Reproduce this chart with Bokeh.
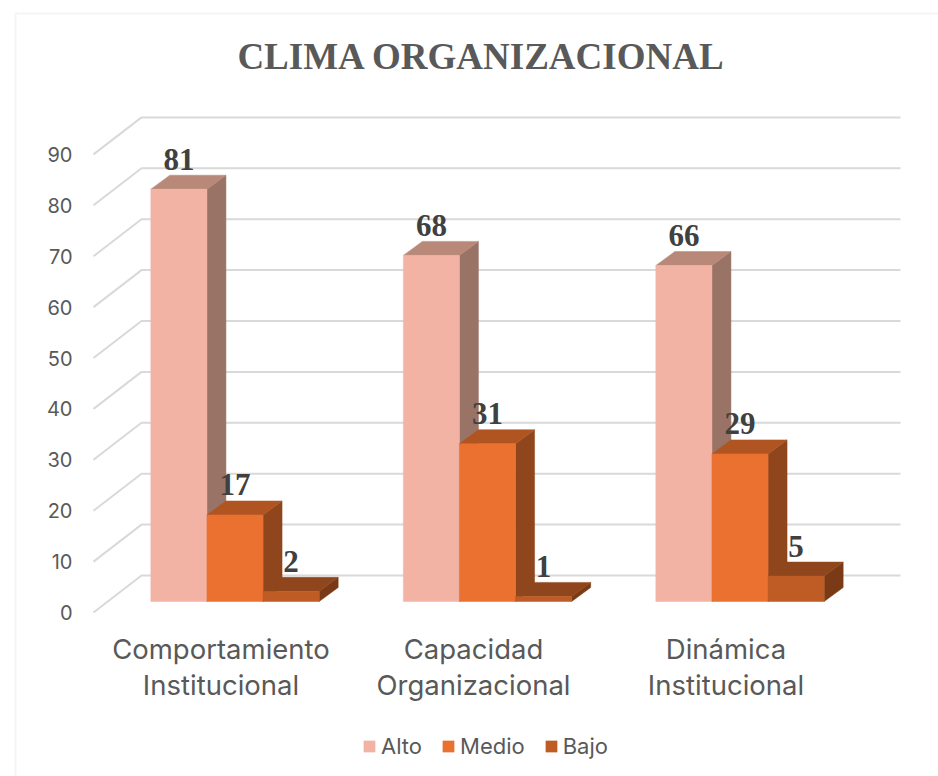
from bokeh.plotting import figure
from bokeh.models import (FixedTicker, Legend, LegendItem, PolyAnnotation, Range1d)
from bokeh.core.properties import value
from bokeh.embed import file_html
from bokeh.resources import INLINE

title = "CLIMA ORGANIZACIONAL"
categories = ["Comportamiento\nInstitucional", "Capacidad\nOrganizacional", "Dinámica\nInstitucional"]
series_names = ["Alto", "Medio", "Bajo"]
alto = [81, 68, 66]
medio = [17, 31, 29]
bajo = [2, 1, 5]
y_ticks = [0, 10, 20, 30, 40, 50, 60, 70, 80, 90]
front_colors = ["#F2B3A4", "#EA7130", "#BF5C26"]
top_colors = ["#B88878", "#B05522", "#8F461C"]
side_colors = ["#997466", "#8F461C", "#7A3A16"]

W, H = 938, 776
unit_x = 252.5
unit_y = 5.09
org_x, org_y = 220.5, 612   # where category 0 / value 0 fall on the canvas


def dx(px):
    return (px - org_x) / unit_x


def dy(py):
    return (org_y - py) / unit_y


p = figure(width=W, height=H, output_backend="svg", toolbar_location=None,
           x_range=Range1d(dx(0), dx(W)), y_range=Range1d(dy(H), dy(0)),
           min_border=0, background_fill_color="white", border_fill_color="white",
           outline_line_color=None)
p.grid.visible = False

FONT = "Inter"
GREY = "#595959"

p.text(x=[dx(481)], y=[dy(56)], text=[title], text_font=value("Liberation Serif"),
       text_font_style="bold", text_font_size="37px", text_color=GREY,
       text_align="center", text_baseline="middle")

p.yaxis.fixed_location = dx(80)
p.yaxis.ticker = FixedTicker(ticks=y_ticks)
p.yaxis.axis_line_color = None
p.yaxis.major_tick_line_color = None
p.yaxis.minor_tick_line_color = None
p.yaxis.major_label_standoff = 2
p.yaxis.major_label_text_font = FONT
p.yaxis.major_label_text_font_size = "20px"
p.yaxis.major_label_text_color = GREY

p.xaxis.fixed_location = 0
p.xaxis.ticker = FixedTicker(ticks=[0, 1, 2])
p.xaxis.major_label_overrides = {i: c for i, c in enumerate(categories)}
p.xaxis.axis_line_color = None
p.xaxis.major_tick_line_color = None
p.xaxis.minor_tick_line_color = None
p.xaxis.major_label_standoff = 13
p.xaxis.major_label_text_font = FONT
p.xaxis.major_label_text_font_size = "27.5px"
p.xaxis.major_label_text_color = GREY
p.xaxis.major_label_text_line_height = 1.085

# depth of the floor, and where the bars stand on it
back_dx, back_dy = 48 / unit_x, 37 / unit_y
bar_dx, bar_dy = 14 / unit_x, 11 / unit_y
depth_dx, depth_dy = 19 / unit_x, 14 / unit_y
end_x = dx(900)
start_x = dx(93)

p.multi_line(xs=[[start_x, start_x + back_dx, end_x] for _ in y_ticks],
             ys=[[t, t + back_dy, t + back_dy] for t in y_ticks],
             line_color="#D9D9D9", line_width=2)

bar_w = 1 / 4.5
legend_items = []
label_x, label_y, label_t = [], [], []
for g in range(len(categories)):
    for s, vals in enumerate([alto, medio, bajo]):
        v = vals[g]
        l = g - 1.5 * bar_w + s * bar_w + bar_dx
        r = l + bar_w
        b = bar_dy
        t = v + bar_dy
        p.patch([r, r + depth_dx, r + depth_dx, r], [b, b + depth_dy, t + depth_dy, t],
                fill_color=side_colors[s], line_color=side_colors[s], line_width=0.5)
        p.patch([l, l + depth_dx, r + depth_dx, r], [t, t + depth_dy, t + depth_dy, t],
                fill_color=top_colors[s], line_color=top_colors[s], line_width=0.5)
        q = p.quad(left=[l], right=[r], bottom=[b], top=[t],
                   fill_color=front_colors[s], line_color=front_colors[s], line_width=0.5)
        if g == 0:
            legend_items.append(LegendItem(label=series_names[s], renderers=[q]))
        label_x.append((l + r) / 2)
        label_y.append(t)
        label_t.append(str(v))

p.text(x=label_x, y=label_y, text=label_t, text_font=value("Liberation Serif"),
       text_font_style="bold", text_font_size="31px", text_color="#404040",
       text_align="center", text_baseline="alphabetic", y_offset=-30)

legend = Legend(items=legend_items, orientation="horizontal", location=(362, 17),
                border_line_color=None, background_fill_alpha=0,
                label_text_font=FONT, label_text_font_size="22px", label_text_color=GREY,
                glyph_width=14, glyph_height=14, label_standoff=5, spacing=19,
                padding=0, margin=0)
p.add_layout(legend)

p.add_layout(PolyAnnotation(xs=[15, 15, 2000, 2000], ys=[2000, 13, 13, 2000],
                            xs_units="canvas", ys_units="canvas",
                            fill_color=None, line_color="#D9D9D9", line_width=2))

open("out.html", "w").write(file_html(p, INLINE))
